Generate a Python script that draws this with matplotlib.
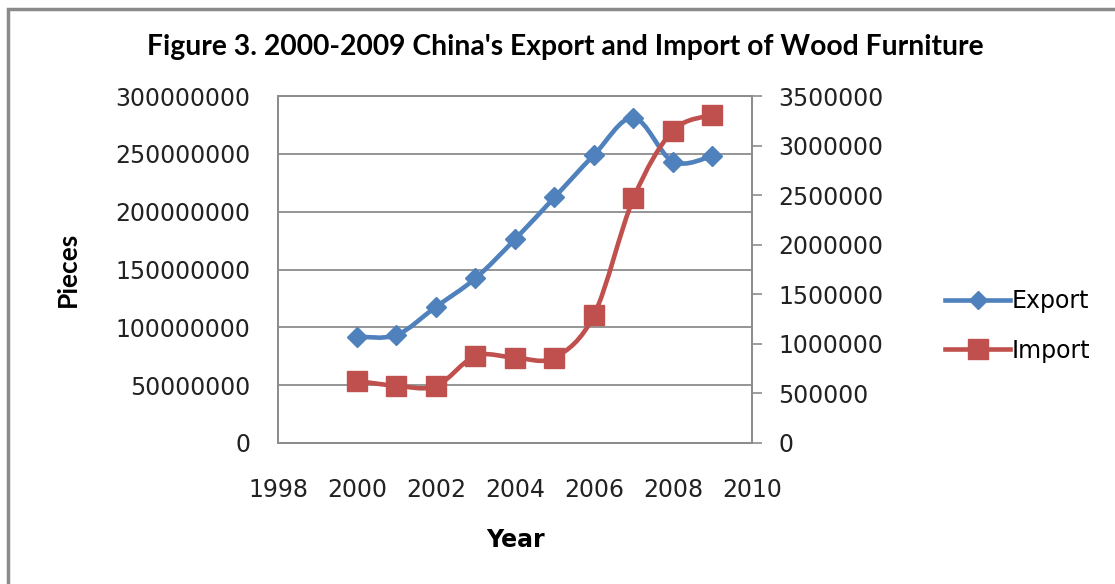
import numpy as np
import matplotlib
matplotlib.use("Agg")
import matplotlib.pyplot as plt
from matplotlib.path import Path
from matplotlib.patches import PathPatch, Rectangle
from matplotlib.lines import Line2D

years = [2000, 2001, 2002, 2003, 2004, 2005, 2006, 2007, 2008, 2009]
export_pieces = [91.9e6, 93.4e6, 117.8e6, 142.4e6, 176.1e6, 212.4e6, 249.0e6, 281.2e6, 243.2e6, 248.1e6]
import_pieces = [625000, 578000, 575000, 878000, 861000, 861000, 1291000, 2468000, 3150000, 3308000]
left_ticks = [0, 50000000, 100000000, 150000000, 200000000, 250000000, 300000000]
right_ticks = [0, 500000, 1000000, 1500000, 2000000, 2500000, 3000000, 3500000]
x_ticks = [1998, 2000, 2002, 2004, 2006, 2008, 2010]

BLUE = "#4F81BD"
RED = "#C0504D"
GRID = "#8c8c8c"
TICKFONT = ["DejaVu Sans"]
TITLEFONT = ["Lato", "DejaVu Sans"]
FS = 17


def smooth_path(x, y):
    # Excel style smoothed line: cubic bezier through every point
    pts = np.column_stack([x, y]).astype(float)
    n = len(pts)
    verts = [pts[0]]
    codes = [Path.MOVETO]
    for i in range(n - 1):
        p0 = pts[i - 1] if i > 0 else pts[i]
        p1 = pts[i]
        p2 = pts[i + 1]
        p3 = pts[i + 2] if i + 2 < n else pts[i + 1]
        c1 = p1 + (p2 - p0) / 6.0
        c2 = p2 - (p3 - p1) / 6.0
        verts += [c1, c2, p2]
        codes += [Path.CURVE4] * 3
    return Path(verts, codes)


fig = plt.figure(figsize=(11.15, 5.84), dpi=100)
ax = fig.add_axes([278 / 1115, 1 - 443 / 584, (752 - 278) / 1115, (443 - 96) / 584])
ax2 = ax.twinx()

ax.set_xlim(1998, 2010)
ax.set_ylim(0, 300000000)
ax2.set_ylim(0, 3500000)

ax.set_yticks(left_ticks)
ax.set_yticklabels([str(t) for t in left_ticks], fontsize=FS, family=TICKFONT, color="#222222")
ax2.set_yticks(right_ticks)
ax2.set_yticklabels([str(t) for t in right_ticks], fontsize=FS, family=TICKFONT, color="#222222")
ax.set_xticks(x_ticks)
ax.set_xticklabels([str(t) for t in x_ticks], fontsize=FS, family=TICKFONT, color="#222222")

ax.tick_params(axis="y", length=0, pad=20)
ax.tick_params(axis="x", length=0, pad=25)
ax2.tick_params(axis="y", length=7, width=1.2, color=GRID, direction="out", pad=12)

ax.grid(axis="y", color=GRID, linewidth=1.3)
ax.set_axisbelow(True)
for a in (ax, ax2):
    for s in a.spines.values():
        s.set_color(GRID)
        s.set_linewidth(1.3)

ax.add_patch(PathPatch(smooth_path(years, export_pieces), facecolor="none",
                       edgecolor=BLUE, linewidth=3.3, zorder=3))
ax.plot(years, export_pieces, linestyle="none", marker="D", markersize=10,
        color=BLUE, zorder=4)
ax2.add_patch(PathPatch(smooth_path(years, import_pieces), facecolor="none",
                        edgecolor=RED, linewidth=3.3, zorder=3))
ax2.plot(years, import_pieces, linestyle="none", marker="s", markersize=15,
         color=RED, zorder=4)

ax.set_ylabel("Pieces", fontsize=19, fontweight="bold", family=TITLEFONT)
ax.yaxis.set_label_coords((80 - 278) / 474, 0.5)
ax.set_xlabel("Year", fontsize=FS, fontweight="bold", family=TICKFONT)
ax.xaxis.set_label_coords(0.5, -(528 - 443) / 347)

fig.text(565 / 1115, 1 - 47 / 584, "Figure 3. 2000-2009 China's Export and Import of Wood Furniture",
         ha="center", va="center", fontsize=20.3, fontweight="bold", family=TITLEFONT)

handles = [Line2D([], [], color=BLUE, linewidth=3.3, marker="D", markersize=9),
           Line2D([], [], color=RED, linewidth=3.3, marker="s", markersize=14)]
fig.legend(handles, ["Export", "Import"], loc="center left",
           bbox_to_anchor=(924 / 1115, 1 - 326 / 584), frameon=False,
           prop={"family": TICKFONT, "size": FS}, handlelength=2.75,
           handletextpad=0.05, labelspacing=1.08)

fig.patches.append(Rectangle((8 / 1115, -0.1), 1.2, 1 - 9 / 584 + 0.1, transform=fig.transFigure,
                             facecolor="none", edgecolor="#8a8a8a", linewidth=2.5))

fig.savefig("out.png", dpi=100)
